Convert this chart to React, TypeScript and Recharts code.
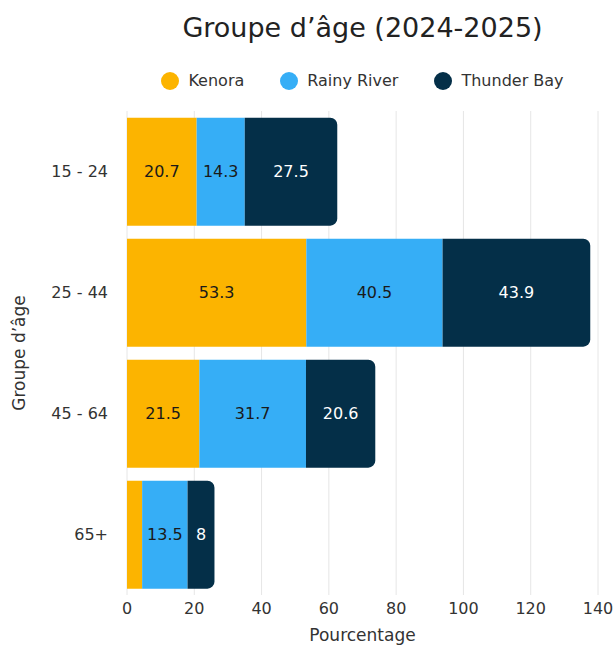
import { BarChart, Bar, XAxis, YAxis, CartesianGrid, Legend, LabelList } from "recharts";

const ageGroups = ["15 - 24", "25 - 44", "45 - 64", "65+"];
const kenora = [20.7, 53.3, 21.5, 4.5];
const rainyRiver = [14.3, 40.5, 31.7, 13.5];
const thunderBay = [27.5, 43.9, 20.6, 8];
const xTicks = [0, 20, 40, 60, 80, 100, 120, 140];

const series = [
  { key: "kenora", name: "Kenora", color: "#FCB400", text: "#1a1a1a" },
  { key: "rainyRiver", name: "Rainy River", color: "#36AEF6", text: "#1a1a1a" },
  { key: "thunderBay", name: "Thunder Bay", color: "#042F48", text: "#ffffff" },
];

const data = ageGroups.map((g, i) => ({
  groupe: g,
  kenora: kenora[i],
  rainyRiver: rainyRiver[i],
  thunderBay: thunderBay[i],
}));

const font = "'DejaVu Sans', sans-serif";

function LegendRow() {
  return (
    <div style={{ display: "flex", justifyContent: "center", gap: 36, fontFamily: font, fontSize: 16, color: "#333" }}>
      {series.map((s) => (
        <div key={s.key} style={{ display: "flex", alignItems: "center", gap: 9 }}>
          <span style={{ width: 18, height: 18, borderRadius: 9, background: s.color, display: "inline-block" }} />
          {s.name}
        </div>
      ))}
    </div>
  );
}

export default function App() {
  return (
    <div style={{ position: "absolute", left: 0, top: 0, width: 615, height: 650, background: "#fff", fontFamily: font }}>
      <div style={{ position: "absolute", left: 127, width: 471, top: 12, textAlign: "center", fontSize: 27, color: "#222" }}>
        Groupe d’âge (2024-2025)
      </div>
      <BarChart
        width={615}
        height={650}
        data={data}
        layout="vertical"
        margin={{ top: 92, right: 17, bottom: 5, left: 10 }}
        barCategoryGap="5.5%"
      >
        <CartesianGrid horizontal={false} stroke="#e6e6e6" />
        <XAxis
          type="number"
          domain={[0, 140]}
          ticks={xTicks}
          height={50}
          axisLine={false}
          tickLine={false}
          tick={{ fontSize: 16, fill: "#333", fontFamily: font }}
          label={{ value: "Pourcentage", position: "insideBottom", offset: 4, fontSize: 17, fill: "#333", fontFamily: font }}
        />
        <YAxis
          type="category"
          dataKey="groupe"
          width={117}
          axisLine={false}
          tickLine={false}
          tickMargin={13}
          tick={{ fontSize: 16, fill: "#333", fontFamily: font }}
          label={{ value: "Groupe d’âge", angle: -90, position: "insideLeft", offset: 9, fontSize: 17, fill: "#333", fontFamily: font, style: { textAnchor: "middle" } }}
        />
        <Legend
          verticalAlign="top"
          content={() => <LegendRow />}
          wrapperStyle={{ top: 71, left: 127, width: 471 }}
        />
        {series.map((s, i) => (
          <Bar
            key={s.key}
            dataKey={s.key}
            name={s.name}
            stackId="a"
            fill={s.color}
            isAnimationActive={false}
            radius={i === series.length - 1 ? [0, 7, 7, 0] : 0}
          >
            <LabelList
              dataKey={s.key}
              position="center"
              fill={s.text}
              fontSize={16}
              fontFamily={font}
              formatter={(v: number) => (v >= 5 ? v : "")}
            />
          </Bar>
        ))}
      </BarChart>
    </div>
  );
}
